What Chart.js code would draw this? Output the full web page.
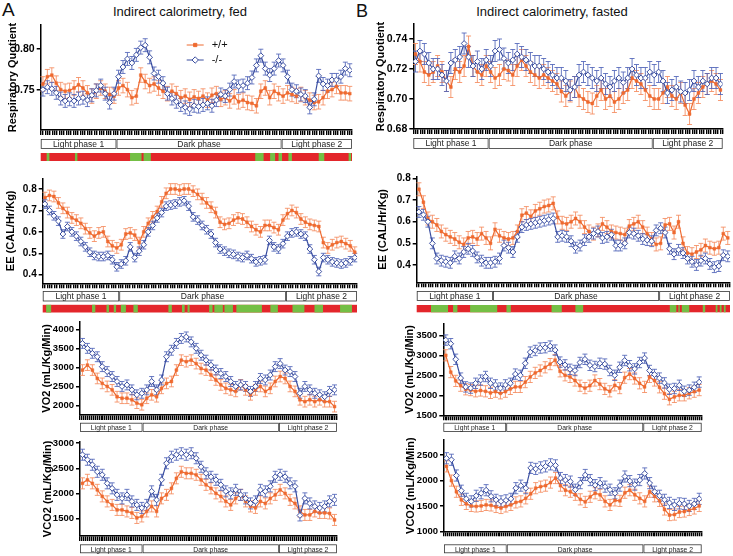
<!DOCTYPE html>
<html>
<head>
<meta charset="utf-8">
<script src="https://cdn.jsdelivr.net/npm/chart.js@4.4.1/dist/chart.umd.min.js"></script>
<style>
  body { margin: 0; background: #fff; width: 733px; height: 556px; position: relative; overflow: hidden;
         font-family: "Liberation Sans", Arial, sans-serif; }
  canvas { position: absolute; }
  .txt { position: absolute; color: #111; white-space: nowrap; }
</style>
</head>
<body>
<div class="txt" style="left:2px;top:-1px;font-size:19px;line-height:22px">A</div>
<div class="txt" style="left:356px;top:0px;font-size:18px;line-height:22px">B</div>
<div class="txt" style="left:80px;top:4px;width:200px;text-align:center;font-size:13px;line-height:16px">Indirect calorimetry, fed</div>
<div class="txt" style="left:452px;top:4px;width:200px;text-align:center;font-size:13px;line-height:16px">Indirect calorimetry, fasted</div>
<script>
// ---- time axis (hours) and phases ----
const spanHours = 23;
const phaseLabels = ['Light phase 1', 'Dark phase', 'Light phase 2'];
const phaseEdges = [0, 5.6, 17.8, 23];

// ---- respiratory quotient ----
const wtFedRQ = [0.757,0.766,0.768,0.758,0.750,0.748,0.749,0.752,0.756,0.752,
  0.746,0.742,0.748,0.752,0.748,0.744,0.742,0.752,0.755,0.750,
  0.740,0.742,0.768,0.760,0.755,0.757,0.752,0.748,0.745,0.748,
  0.745,0.740,0.742,0.738,0.741,0.739,0.742,0.737,0.743,0.745,
  0.738,0.740,0.736,0.741,0.735,0.737,0.734,0.733,0.730,0.748,
  0.752,0.740,0.748,0.745,0.742,0.746,0.744,0.742,0.744,0.740,
  0.737,0.734,0.735,0.740,0.748,0.750,0.754,0.746,0.746,0.745];
const koFedRQ = [0.750,0.753,0.751,0.746,0.739,0.736,0.738,0.736,0.739,0.740,
  0.737,0.743,0.749,0.755,0.745,0.734,0.745,0.766,0.778,0.788,
  0.783,0.793,0.802,0.805,0.790,0.770,0.766,0.758,0.745,0.739,
  0.735,0.731,0.728,0.726,0.730,0.729,0.731,0.733,0.730,0.737,
  0.744,0.742,0.750,0.760,0.754,0.755,0.758,0.765,0.780,0.792,
  0.776,0.768,0.776,0.786,0.780,0.766,0.750,0.748,0.744,0.742,
  0.728,0.738,0.767,0.757,0.755,0.762,0.762,0.766,0.776,0.774];
const wtFastRQ = [0.730,0.725,0.718,0.716,0.718,0.722,0.718,0.712,0.708,0.720,
  0.718,0.722,0.735,0.722,0.718,0.716,0.722,0.718,0.714,0.716,
  0.720,0.719,0.716,0.722,0.726,0.722,0.718,0.716,0.714,0.716,
  0.714,0.712,0.710,0.705,0.702,0.705,0.708,0.702,0.700,0.698,
  0.697,0.702,0.706,0.700,0.702,0.698,0.700,0.704,0.706,0.714,
  0.712,0.710,0.706,0.702,0.700,0.700,0.704,0.708,0.702,0.700,
  0.704,0.696,0.690,0.700,0.704,0.708,0.710,0.712,0.710,0.706];
const koFastRQ = [0.725,0.732,0.730,0.724,0.720,0.720,0.716,0.712,0.724,0.726,
  0.728,0.737,0.728,0.722,0.725,0.720,0.726,0.722,0.732,0.733,
  0.727,0.724,0.726,0.730,0.728,0.726,0.724,0.722,0.722,0.720,
  0.718,0.716,0.714,0.714,0.712,0.706,0.708,0.716,0.718,0.716,
  0.714,0.712,0.714,0.710,0.708,0.712,0.714,0.711,0.714,0.720,
  0.716,0.714,0.714,0.718,0.716,0.718,0.712,0.704,0.706,0.708,
  0.705,0.704,0.706,0.712,0.708,0.712,0.710,0.714,0.714,0.710];

// ---- energy expenditure ----
const wtFedEE = [0.76,0.77,0.765,0.735,0.71,0.69,0.665,0.655,0.64,0.615,
  0.595,0.58,0.595,0.60,0.555,0.535,0.525,0.54,0.59,0.595,
  0.585,0.55,0.60,0.64,0.67,0.695,0.74,0.78,0.80,0.80,
  0.795,0.80,0.80,0.79,0.775,0.755,0.735,0.715,0.69,0.645,
  0.635,0.64,0.655,0.665,0.66,0.645,0.625,0.61,0.60,0.63,
  0.63,0.62,0.61,0.655,0.685,0.70,0.69,0.66,0.645,0.635,
  0.63,0.625,0.55,0.525,0.54,0.55,0.555,0.545,0.535,0.505];
const koFedEE = [0.73,0.70,0.675,0.65,0.59,0.625,0.60,0.58,0.555,0.53,
  0.505,0.49,0.485,0.485,0.49,0.47,0.437,0.45,0.465,0.53,
  0.48,0.51,0.54,0.60,0.63,0.665,0.69,0.72,0.725,0.73,
  0.74,0.745,0.72,0.67,0.655,0.63,0.61,0.59,0.55,0.52,
  0.51,0.50,0.495,0.485,0.48,0.49,0.475,0.46,0.465,0.47,
  0.56,0.53,0.52,0.545,0.58,0.595,0.60,0.59,0.58,0.52,
  0.47,0.415,0.48,0.47,0.46,0.455,0.45,0.455,0.465,0.48];
const wtFastEE = [0.75,0.69,0.615,0.60,0.585,0.555,0.54,0.53,0.52,0.505,
  0.495,0.525,0.53,0.52,0.545,0.525,0.50,0.565,0.535,0.525,
  0.52,0.525,0.555,0.63,0.64,0.625,0.65,0.66,0.67,0.675,
  0.685,0.62,0.595,0.59,0.60,0.615,0.60,0.575,0.555,0.545,
  0.56,0.59,0.575,0.555,0.55,0.545,0.54,0.58,0.59,0.60,
  0.575,0.545,0.52,0.495,0.50,0.585,0.59,0.55,0.60,0.50,
  0.455,0.45,0.46,0.47,0.49,0.48,0.475,0.48,0.545,0.525];
const koFastEE = [0.645,0.632,0.60,0.50,0.43,0.42,0.415,0.41,0.44,0.43,
  0.46,0.475,0.465,0.435,0.42,0.41,0.41,0.415,0.43,0.49,
  0.48,0.46,0.53,0.575,0.585,0.59,0.595,0.60,0.605,0.61,
  0.615,0.53,0.535,0.53,0.51,0.48,0.49,0.515,0.53,0.545,
  0.555,0.525,0.53,0.54,0.49,0.49,0.50,0.55,0.545,0.535,
  0.52,0.515,0.51,0.56,0.57,0.55,0.475,0.45,0.47,0.455,
  0.43,0.415,0.40,0.42,0.43,0.405,0.39,0.395,0.445,0.44];

// ---- VO2 ----
const wtFedVO2 = [2930,3060,2930,2710,2580,2500,2410,2230,2190,2190,
  2150,2060,2020,2190,2280,2230,2450,2580,2630,2930,
  3190,3150,3190,3100,2970,2930,2800,2670,2540,2450,
  2410,2370,2540,2410,2280,2410,2500,2370,2450,2630,
  2760,2710,2500,2370,2150,2100,2150,2100,2150,2100,
  2100,1970];
const koFedVO2 = [3630,3500,3370,3280,3020,2890,2760,2630,2500,2540,
  2410,2280,2320,2410,2630,2410,2670,3280,3450,3630,
  3760,3800,3670,3500,3320,3190,3060,2930,2840,2760,
  2630,2500,2540,2500,2370,2500,2710,2670,2800,3020,
  3100,2930,2890,2760,2320,2500,2410,2320,2280,2230,
  2370,2410];
const wtFastVO2 = [3000,2580,2360,2240,2150,2130,2100,2120,2100,2060,
  2090,2050,2090,2160,2210,2210,2330,2460,2560,2620,
  2700,2780,2880,2600,2500,2460,2370,2240,2180,2240,
  2370,2280,2160,2100,2250,2180,2440,2530,2420,2300,
  2210,2460,2370,2200,2040,1900,1960,2000,2000,2050,
  2090,2130];
const koFastVO2 = [3380,3290,2900,2430,2210,2180,2300,2380,2470,2300,
  2260,2180,2260,2300,2530,2500,2800,3080,3120,3180,
  3190,3230,3130,2830,2760,2650,2620,2820,2900,2750,
  2720,2800,2780,2620,2500,2700,2870,2740,2660,2820,
  2930,2620,2520,2430,2310,2150,2170,2250,2100,2130,
  2200,2330];

// ---- VCO2 ----
const wtFedVCO2 = [2200,2270,2200,2070,1940,1840,1770,1670,1670,1640,
  1610,1510,1540,1640,1740,1640,1900,1970,2100,2300,
  2430,2400,2400,2370,2270,2170,2100,2000,1940,1840,
  1770,1900,1970,1840,1740,1710,1840,1800,1900,1970,
  2070,2000,1870,1800,1640,1570,1570,1640,1610,1610,
  1600,1470];
const koFedVCO2 = [2770,2670,2570,2430,2370,2200,2100,1970,1900,1970,
  1840,1770,1710,1770,2040,1870,2270,2600,2730,2770,
  2800,2770,2800,2700,2530,2400,2330,2270,2170,2040,
  2000,2070,1970,1900,1800,1840,2070,2040,2140,2330,
  2370,2330,2200,2140,1560,1900,1800,1740,1710,1740,
  1840,1870];
const wtFastVCO2 = [2280,2000,1780,1620,1540,1500,1490,1500,1520,1510,
  1480,1460,1490,1520,1570,1590,1650,1740,1850,1880,
  1900,1960,2050,1900,1810,1780,1720,1630,1580,1680,
  1750,1720,1590,1520,1610,1600,1760,1810,1720,1650,
  1590,1780,1690,1600,1430,1320,1330,1380,1390,1420,
  1450,1500];
const koFastVCO2 = [2440,2410,2100,1800,1640,1590,1700,1750,1810,1690,
  1620,1590,1610,1640,1850,1900,1850,2250,2230,2260,
  2280,2320,2300,2050,2010,1980,1820,1950,2110,2010,
  1910,1950,1880,1820,1750,1900,2080,1990,1920,2010,
  2140,1950,1780,1700,1620,1560,1520,1550,1540,1500,
  1540,1640];

// SEM (one value per series: [+/+, -/-])
const errRQFed = [0.009, 0.008];
const errRQFast = [0.007, 0.007];
const errEEFed = [0.025, 0.02];
const errEEFast = [0.03, 0.025];
const errVO2 = [140, 130];
const errVCO2 = [110, 110];

// significance bars: green stretches (hours), rest red
const sigFedRQ = [[0.44,0.64],[2.53,2.71],[6.6,7.45],[7.6,8.14],[15.85,16.47],[16.95,17.32],
  [17.57,17.83],[18.3,18.56],[20.54,20.95],[22.75,22.93]];
const sigFedEE = [[0.25,0.62],[3.61,3.85],[4.67,4.85],[5.2,5.37],[5.72,6.09],[6.64,6.96],[9.2,9.45],
  [10.19,10.39],[10.6,10.75],[12.18,12.43],[12.56,13.18],[13.3,13.92],[14.17,16.04],[16.66,17.21],
  [18.28,19.15],[19.89,20.51],[21.76,22.63]];
const sigFastEE = [[1.05,2.3],[2.67,2.99],[3.92,5.91],[6.59,6.91],[9.9,10.65],[11.65,12.22],
  [18.58,19.06],[19.21,19.31],[19.46,20.01],[21.0,21.18],[21.95,22.08],[22.25,22.38],[22.55,22.68]];

// y tick labels
const rqFedTicks = [0.75, 0.80];
const rqFastTicks = [0.68, 0.70, 0.72, 0.74];
const eeTicks = [0.4, 0.5, 0.6, 0.7, 0.8];
const vo2FedTicks = [2000, 2500, 3000, 3500, 4000];
const vo2FastTicks = [1500, 2000, 2500, 3000, 3500];
const vco2FedTicks = [1500, 2000, 2500, 3000];
const vco2FastTicks = [1000, 1500, 2000, 2500];

const ORANGE = '#ee6a30';
const BLUE = '#3a4ea0';

Chart.defaults.font.family = '"Liberation Sans", Arial, sans-serif';
Chart.defaults.color = '#000';
Chart.defaults.animation = false;

// dense minor ticks along the time axis
const xTicks = [];
for (let k = 0; k <= 133; k++) xTicks.push({ value: k * spanHours / 133 });

const panels = [
  { wt: wtFedRQ, ko: koFedRQ, err: errRQFed, yMin: 0.70, yMax: 0.83, yTicks: rqFedTicks, dec: 2, tickSize: 10.5,
    title: 'Respiratory Quotient', box: [2, 13, 358, 152], yW: 38.7, padTop: 12, padRight: 8, xH: 35,
    gap: 9, boxH: 10, font: 8.5, squeeze: 1, sig: sigFedRQ, barGap: 4, barH: 8, legend: true },
  { wt: wtFastRQ, ko: koFastRQ, err: errRQFast, yMin: 0.68, yMax: 0.75, yTicks: rqFastTicks, dec: 2, tickSize: 10.5,
    title: 'Respiratory Quotient', box: [370, 12, 363, 140], yW: 43.3, padTop: 12, padRight: 10.3, xH: 23,
    gap: 9, boxH: 11, font: 8.5, squeeze: 1 },
  { wt: wtFedEE, ko: koFedEE, err: errEEFed, yMin: 0.36, yMax: 0.85, yTicks: eeTicks, dec: 1, tickSize: 10,
    title: 'EE (CAL/Hr/Kg)', box: [0, 166, 363, 150], yW: 42.7, padTop: 12.3, padRight: 6, xH: 32.7,
    gap: 7.7, boxH: 10.5, font: 8.5, squeeze: 1, sig: sigFedEE, barGap: 3.3, barH: 7.7 },
  { wt: wtFastEE, ko: koFastEE, err: errEEFast, yMin: 0.32, yMax: 0.81, yTicks: eeTicks, dec: 1, tickSize: 10,
    title: 'EE (CAL/Hr/Kg)', box: [372, 164, 361, 152], yW: 44.7, padTop: 12.3, padRight: 3, xH: 33.7,
    gap: 8.7, boxH: 10, font: 8.5, squeeze: 1, sig: sigFastEE, barGap: 4, barH: 7.3 },
  { wt: wtFedVO2, ko: koFedVO2, err: errVO2, yMin: 1750, yMax: 4200, yTicks: vo2FedTicks, dec: 0, tickSize: 9.5,
    title: 'VO2 (mL/Kg/Min)', box: [36, 309, 310, 127], yW: 44, padTop: 12.7, padRight: 9, xH: 21,
    gap: 7.7, boxH: 9.3, font: 8, squeeze: 0.85 },
  { wt: wtFastVO2, ko: koFastVO2, err: errVO2, yMin: 1500, yMax: 3800, yTicks: vo2FastTicks, dec: 0, tickSize: 9.5,
    title: 'VO2 (mL/Kg/Min)', box: [399, 311, 313, 125], yW: 44.3, padTop: 12.3, padRight: 10.3, xH: 20.7,
    gap: 7.4, boxH: 9.3, font: 8, squeeze: 0.85 },
  { wt: wtFedVCO2, ko: koFedVCO2, err: errVCO2, yMin: 1150, yMax: 3030, yTicks: vco2FedTicks, dec: 0, tickSize: 9.5,
    title: 'VCO2 (mL/Kg/Min)', box: [37, 429, 309, 127], yW: 43, padTop: 12.7, padRight: 9, xH: 20,
    gap: 8.3, boxH: 9, font: 8, squeeze: 0.85 },
  { wt: wtFastVCO2, ko: koFastVCO2, err: errVCO2, yMin: 1000, yMax: 2800, yTicks: vco2FastTicks, dec: 0, tickSize: 9.5,
    title: 'VCO2 (mL/Kg/Min)', box: [400, 428, 312, 128], yW: 44, padTop: 12, padRight: 10.3, xH: 24.7,
    gap: 13, boxH: 9, font: 8, squeeze: 0.85 }
];

// error bars drawn under the lines
const errorBars = {
  id: 'errorBars',
  beforeDatasetsDraw(chart) {
    const { ctx, scales: { x, y } } = chart;
    chart.data.datasets.slice().reverse().forEach(ds => {
      ctx.save();
      ctx.strokeStyle = ds.errColor;
      ctx.lineWidth = 1;
      ctx.beginPath();
      ds.data.forEach(p => {
        const px = x.getPixelForValue(p.x);
        const top = y.getPixelForValue(p.y + ds.err);
        const bot = y.getPixelForValue(p.y - ds.err);
        ctx.moveTo(px, top); ctx.lineTo(px, bot);
        ctx.moveTo(px - 2.5, top); ctx.lineTo(px + 2.5, top);
        ctx.moveTo(px - 2.5, bot); ctx.lineTo(px + 2.5, bot);
      });
      ctx.stroke();
      ctx.restore();
    });
  }
};

// phase boxes, significance bar and legend under / inside the plot
const phases = {
  id: 'phases',
  afterDraw(chart, args, o) {
    const { ctx, chartArea: area } = chart;
    const x = chart.scales.x;
    const top = area.bottom + o.gap;
    ctx.save();
    ctx.lineWidth = 0.8;
    ctx.strokeStyle = '#333';
    for (let k = 0; k < phaseLabels.length; k++) {
      const x0 = x.getPixelForValue(phaseEdges[k]);
      const x1 = x.getPixelForValue(phaseEdges[k + 1]);
      ctx.fillStyle = '#fff';
      ctx.fillRect(x0, top, x1 - x0, o.boxH);
      ctx.strokeRect(x0 + 0.5, top + 0.5, x1 - x0 - 1, o.boxH - 1);
      ctx.save();
      ctx.translate((x0 + x1) / 2, top + o.boxH / 2 + 0.5);
      ctx.scale(o.squeeze, 1);
      ctx.fillStyle = '#222';
      ctx.font = o.font + 'px "Liberation Sans", Arial, sans-serif';
      ctx.textAlign = 'center';
      ctx.textBaseline = 'middle';
      ctx.fillText(phaseLabels[k], 0, 0);
      ctx.restore();
    }
    if (o.sig) {
      const bt = top + o.boxH + o.barGap;
      const bx0 = x.getPixelForValue(0), bx1 = x.getPixelForValue(spanHours);
      ctx.fillStyle = '#e3262b';
      ctx.fillRect(bx0, bt, bx1 - bx0, o.barH);
      ctx.fillStyle = '#74bf45';
      o.sig.forEach(s => {
        const a = x.getPixelForValue(s[0]), b = x.getPixelForValue(s[1]);
        ctx.fillRect(a, bt, b - a, o.barH);
      });
    }
    if (o.legend) {
      const items = chart.data.datasets.slice().reverse();
      items.forEach((ds, k) => {
        const ly = area.top + 20 + k * 15;
        const lx = area.left + 146;
        ctx.strokeStyle = ds.borderColor;
        ctx.lineWidth = 1;
        ctx.beginPath(); ctx.moveTo(lx, ly); ctx.lineTo(lx + 17, ly); ctx.stroke();
        ctx.fillStyle = ds.pointBackgroundColor;
        ctx.strokeStyle = ds.pointBorderColor;
        Chart.helpers.drawPoint(ctx, { pointStyle: ds.pointStyle, rotation: ds.pointRotation || 0,
          radius: ds.pointRadius + 0.3, borderWidth: 1 }, lx + 8.5, ly);
        ctx.fillStyle = '#111';
        ctx.font = '11px "Liberation Sans", Arial, sans-serif';
        ctx.textAlign = 'left';
        ctx.textBaseline = 'middle';
        ctx.fillText(ds.label, lx + 25, ly);
      });
    }
    ctx.restore();
  }
};

function toPoints(values) {
  return values.map((v, i) => ({ x: (i + 0.5) * spanHours / values.length, y: v }));
}

panels.forEach(p => {
  const cv = document.createElement('canvas');
  cv.width = p.box[2];
  cv.height = p.box[3];
  cv.style.left = p.box[0] + 'px';
  cv.style.top = p.box[1] + 'px';
  cv.style.width = p.box[2] + 'px';
  cv.style.height = p.box[3] + 'px';
  document.body.appendChild(cv);

  new Chart(cv.getContext('2d'), {
    type: 'line',
    data: {
      datasets: [
        {
          label: '-/-',
          data: toPoints(p.ko),
          err: p.err[1],
          errColor: 'rgba(80,100,185,0.85)',
          borderColor: BLUE,
          borderWidth: 1.2,
          pointStyle: 'rectRot',
          pointRadius: 2.9,
          pointBorderWidth: 1,
          pointBackgroundColor: '#fff',
          pointBorderColor: BLUE,
        },
        {
          label: '+/+',
          data: toPoints(p.wt),
          err: p.err[0],
          errColor: 'rgba(244,140,95,0.85)',
          borderColor: ORANGE,
          borderWidth: 1.2,
          pointStyle: 'rect',
          pointRadius: 2,
          pointBorderWidth: 0.5,
          pointBackgroundColor: ORANGE,
          pointBorderColor: ORANGE,
        },
      ],
    },
    options: {
      responsive: false,
      animation: false,
      layout: { autoPadding: false, padding: { top: p.padTop, right: p.padRight, left: 0, bottom: 0 } },
      plugins: {
        legend: { display: false },
        tooltip: { enabled: false },
        phases: p,
      },
      scales: {
        x: {
          type: 'linear',
          min: 0,
          max: spanHours,
          afterBuildTicks: s => { s.ticks = xTicks.slice(); },
          afterFit: s => { s.height = p.xH; },
          ticks: { display: false },
          grid: { drawOnChartArea: false, drawTicks: true, tickLength: 5, color: '#000', lineWidth: 1.4 },
          border: { color: '#000', width: 1.5 },
        },
        y: {
          type: 'linear',
          min: p.yMin,
          max: p.yMax,
          afterBuildTicks: s => { s.ticks = p.yTicks.map(v => ({ value: v })); },
          afterFit: s => { s.width = p.yW; },
          ticks: {
            font: { size: p.tickSize, weight: 'bold' },
            color: '#000',
            padding: 2,
            callback: v => v.toFixed(p.dec),
          },
          grid: { drawOnChartArea: false, drawTicks: true, tickLength: 4, color: '#000', lineWidth: 1.5 },
          border: { color: '#000', width: 1.5 },
          title: {
            display: true,
            text: p.title,
            font: { size: 11, weight: 'bold' },
            color: '#000',
            padding: { top: 4, bottom: 0 },
          },
        },
      },
    },
    plugins: [errorBars, phases],
  });
});
</script>
</body>
</html>
